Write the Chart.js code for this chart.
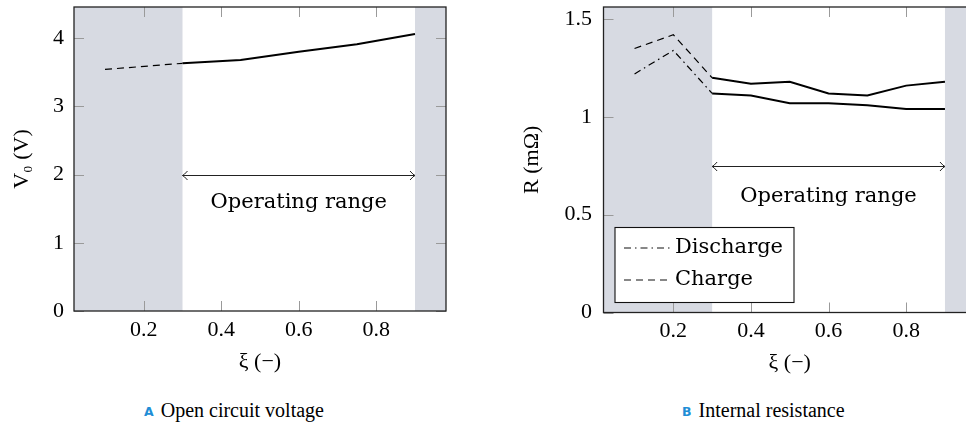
<!DOCTYPE html>
<html>
<head>
<meta charset="utf-8">
<script src="https://cdn.jsdelivr.net/npm/chart.js@4"></script>
<style>
  body { margin: 0; width: 966px; height: 435px; overflow: hidden; background: #fff; position: relative; }
  canvas { position: absolute; top: 0; }
  #cA { left: 0; }
  #cB { left: 480px; }
  .cap { position: absolute; top: 399px; font-family: "Liberation Serif", serif; font-size: 20px; line-height: 22px; color: #000; white-space: nowrap; }
  .cap b { font-family: "DejaVu Sans", sans-serif; font-size: 12.5px; color: #1f8ed6; margin-right: 7px; vertical-align: 1px; }
</style>
</head>
<body>
<canvas id="cA" width="480" height="390"></canvas>
<canvas id="cB" width="520" height="390"></canvas>
<div class="cap" style="left:144px"><b>A</b>Open circuit voltage</div>
<div class="cap" style="left:682px"><b>B</b>Internal resistance</div>
<script>
// ---- data ----
const socV = [0.1, 0.3, 0.45, 0.6, 0.75, 0.9];
const voltage = [3.54, 3.63, 3.68, 3.80, 3.91, 4.06];

const socR = [0.1, 0.2, 0.3, 0.4, 0.5, 0.6, 0.7, 0.8, 0.9];
const discharge = [1.22, 1.34, 1.12, 1.11, 1.07, 1.07, 1.06, 1.04, 1.04];
const charge = [1.35, 1.42, 1.20, 1.17, 1.18, 1.12, 1.11, 1.16, 1.18];

const xTicks = [0.2, 0.4, 0.6, 0.8];
const vTicks = [0, 1, 2, 3, 4];
const rTicks = [0, 0.5, 1, 1.5];

const xLimits = [0.02, 0.98];
const vMax = 4.455;
const rMax = 1.562;
const opRange = [0.3, 0.9];   // operating range of xi
const opLabel = "Operating range";

const tickFont = { family: '"Liberation Serif", serif', size: 22 };
const titleFont = { family: '"Liberation Serif", serif', size: 22 };
const textFont = '21px "DejaVu Serif", serif';

const pts = (xs, ys) => xs.map((x, i) => ({ x, y: ys[i] }));

// dashed outside the operating range, solid inside
const segStyle = dash => ({
    borderDash: c => c.p1.parsed.x <= opRange[0] ? dash : [],
    borderWidth: c => c.p1.parsed.x <= opRange[0] ? 1.2 : 2
});

/* ============ plugins: bands, inner ticks, frame ============ */
const frame = {
    id: "frame",
    beforeDatasetsDraw(chart) {
        const { ctx, chartArea: a, scales: { x, y } } = chart;
        ctx.save();
        ctx.fillStyle = "#d7dae2";
        [[xLimits[0], opRange[0]], [opRange[1], xLimits[1]]].forEach(([p, q]) => {
            const l = x.getPixelForValue(p), r = x.getPixelForValue(q);
            ctx.fillRect(l, a.top, r - l, a.bottom - a.top);
        });
        ctx.strokeStyle = "#9a9a9a";
        ctx.lineWidth = 1;
        ctx.beginPath();
        x.ticks.forEach(t => {
            const px = Math.round(x.getPixelForValue(t.value)) + 0.5;
            ctx.moveTo(px, a.bottom); ctx.lineTo(px, a.bottom - 10);
            ctx.moveTo(px, a.top); ctx.lineTo(px, a.top + 10);
        });
        y.ticks.forEach(t => {
            const py = Math.round(y.getPixelForValue(t.value)) + 0.5;
            ctx.moveTo(a.left, py); ctx.lineTo(a.left + 10, py);
            ctx.moveTo(a.right, py); ctx.lineTo(a.right - 10, py);
        });
        ctx.stroke();
        ctx.restore();
    },
    afterDatasetsDraw(chart) {
        const { ctx, chartArea: a } = chart;
        ctx.save();
        ctx.strokeStyle = "#222";
        ctx.lineWidth = 1.3;
        ctx.strokeRect(a.left, a.top, a.right - a.left, a.bottom - a.top);
        ctx.restore();
    }
};

const rangeArrow = {
    id: "rangeArrow",
    afterDraw(chart, args, opts) {
        const { ctx, scales: { x, y } } = chart;
        const x1 = x.getPixelForValue(opRange[0]), x2 = x.getPixelForValue(opRange[1]);
        const py = Math.round(y.getPixelForValue(opts.level)) + 0.5;
        ctx.save();
        ctx.strokeStyle = "#222";
        ctx.lineWidth = 1;
        ctx.beginPath();
        ctx.moveTo(x1, py); ctx.lineTo(x2, py);
        ctx.moveTo(x1 + 5, py - 4.5); ctx.quadraticCurveTo(x1 + 1.5, py - 0.5, x1, py);
        ctx.quadraticCurveTo(x1 + 1.5, py + 0.5, x1 + 5, py + 4.5);
        ctx.moveTo(x2 - 5, py - 4.5); ctx.quadraticCurveTo(x2 - 1.5, py - 0.5, x2, py);
        ctx.quadraticCurveTo(x2 - 1.5, py + 0.5, x2 - 5, py + 4.5);
        ctx.stroke();
        ctx.fillStyle = "#000";
        ctx.font = textFont;
        ctx.textAlign = "center";
        ctx.textBaseline = "alphabetic";
        ctx.fillText(opLabel, x.getPixelForValue((opRange[0] + opRange[1]) / 2), py + opts.gap);
        ctx.restore();
    }
};

const boxLegend = {
    id: "boxLegend",
    afterDraw(chart) {
        const { ctx, chartArea: a } = chart;
        const left = a.left + 11.5, top = a.bottom - 85;
        ctx.save();
        ctx.fillStyle = "#fff";
        ctx.fillRect(left, top, 179, 75);
        ctx.strokeStyle = "#111";
        ctx.lineWidth = 1.1;
        ctx.strokeRect(left, top, 179, 75);
        chart.data.datasets.forEach((ds, i) => {
            const cy = top + 20 + i * 32;
            ctx.setLineDash(ds.legendDash);
            ctx.lineWidth = 1.1;
            ctx.beginPath();
            ctx.moveTo(left + 9, cy + 0.5); ctx.lineTo(left + 55, cy + 0.5);
            ctx.stroke();
            ctx.setLineDash([]);
            ctx.fillStyle = "#000";
            ctx.font = textFont;
            ctx.textBaseline = "middle";
            ctx.fillText(ds.label, left + 60, cy);
        });
        ctx.restore();
    }
};

/* ============ axes ============ */
function axes(yTicks, yMax, yTitle, yWidth, labelPad, titlePad) {
    return {
        x: {
            type: "linear", min: xLimits[0], max: xLimits[1],
            grid: { display: false, drawTicks: false }, border: { display: false },
            afterBuildTicks: s => { s.ticks = xTicks.map(v => ({ value: v })); },
            afterFit: s => { s.height = 70; s.paddingLeft = 0; s.paddingRight = 0; },
            ticks: { font: tickFont, color: "#000", padding: 6, maxRotation: 0, autoSkip: false, callback: v => String(v) },
            title: { display: true, text: "ξ (−)", font: titleFont, color: "#000", padding: { top: 0, bottom: 6 } }
        },
        y: {
            type: "linear", min: 0, max: yMax,
            grid: { display: false, drawTicks: false }, border: { display: false },
            afterBuildTicks: s => { s.ticks = yTicks.map(v => ({ value: v })); },
            afterFit: s => { s.width = yWidth; s.paddingTop = 0; s.paddingBottom = 0; },
            ticks: { font: tickFont, color: "#000", padding: labelPad, autoSkip: false, callback: v => String(v) },
            title: { display: true, text: yTitle, font: titleFont, color: "#000", padding: { top: titlePad, bottom: 0 } }
        }
    };
}

const base = {
    responsive: false,
    animation: false,
    events: [],
    elements: { point: { radius: 0 }, line: { tension: 0, borderCapStyle: "butt" } }
};

new Chart(document.getElementById("cA"), {
    type: "line",
    data: {
        datasets: [{
            label: "V0",
            data: pts(socV, voltage),
            borderColor: "#000",
            fill: false,
            segment: segStyle([7, 5])
        }]
    },
    options: {
        ...base,
        layout: { padding: { left: 0, right: 34, top: 7, bottom: 9 } },
        scales: axes(vTicks, vMax, "V₀ (V)", 74, 10, 8.8),
        plugins: { legend: { display: false }, tooltip: { enabled: false }, rangeArrow: { level: 2, gap: 32 } }
    },
    plugins: [frame, rangeArrow]
});

new Chart(document.getElementById("cB"), {
    type: "line",
    data: {
        datasets: [
            {
                label: "Discharge",
                data: pts(socR, discharge),
                borderColor: "#000",
                fill: false,
                legendDash: [7, 4, 1.5, 4],
                segment: segStyle([7, 4, 1.5, 4])
            },
            {
                label: "Charge",
                data: pts(socR, charge),
                borderColor: "#000",
                fill: false,
                legendDash: [7, 5],
                segment: segStyle([7, 5])
            }
        ]
    },
    options: {
        ...base,
        layout: { padding: { left: 0, right: 24, top: 7, bottom: 7.5 } },
        scales: axes(rTicks, rMax, "R (mΩ)", 123.5, 11.5, 38.8),
        plugins: { legend: { display: false }, tooltip: { enabled: false }, rangeArrow: { level: 0.75, gap: 35 } }
    },
    plugins: [frame, rangeArrow, boxLegend]
});
</script>
</body>
</html>
